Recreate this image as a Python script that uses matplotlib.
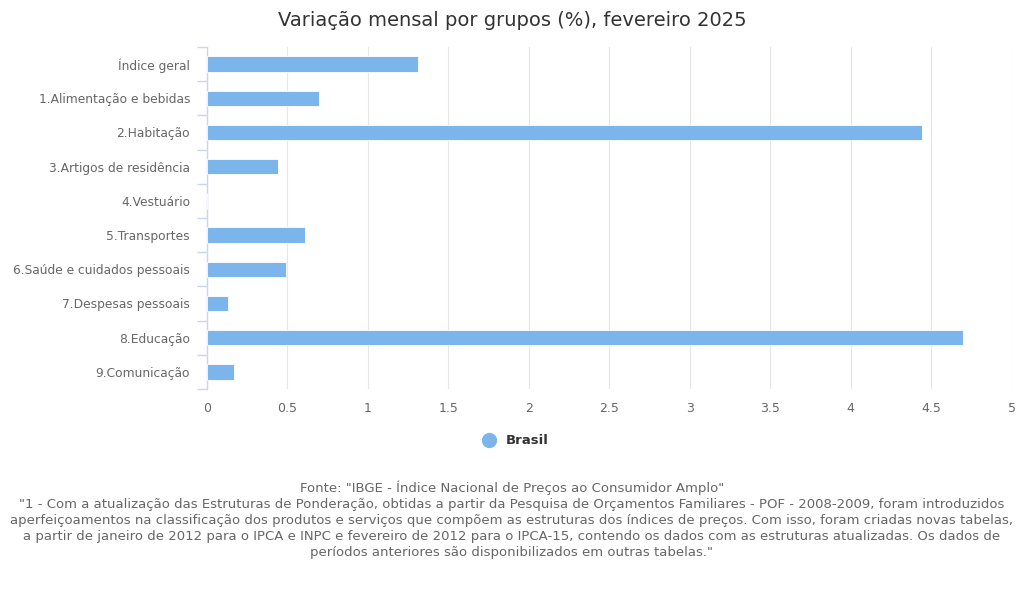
import matplotlib.pyplot as plt
from matplotlib.lines import Line2D

plt.rcParams['font.family'] = ['DejaVu Sans']

categorias = ["Índice geral", "1.Alimentação e bebidas", "2.Habitação",
              "3.Artigos de residência", "4.Vestuário", "5.Transportes",
              "6.Saúde e cuidados pessoais", "7.Despesas pessoais",
              "8.Educação", "9.Comunicação"]
brasil = [1.31, 0.70, 4.44, 0.44, 0.00, 0.61, 0.49, 0.13, 4.70, 0.17]
x_ticks = [0, 0.5, 1, 1.5, 2, 2.5, 3, 3.5, 4, 4.5, 5]
x_labels = ["0", "0.5", "1", "1.5", "2", "2.5", "3", "3.5", "4", "4.5", "5"]

titulo = "Variação mensal por grupos (%), fevereiro 2025"
fonte = ('Fonte: "IBGE - Índice Nacional de Preços ao Consumidor Amplo"\n'
         '"1 - Com a atualização das Estruturas de Ponderação, obtidas a partir da Pesquisa de Orçamentos Familiares - POF - 2008-2009, foram introduzidos\n'
         'aperfeiçoamentos na classificação dos produtos e serviços que compõem as estruturas dos índices de preços. Com isso, foram criadas novas tabelas,\n'
         'a partir de janeiro de 2012 para o IPCA e INPC e fevereiro de 2012 para o IPCA-15, contendo os dados com as estruturas atualizadas. Os dados de\n'
         'períodos anteriores são disponibilizados em outras tabelas."')

W, H = 1024, 602
fig = plt.figure(figsize=(W / 100, H / 100), dpi=100)
ax = fig.add_axes([206.7 / W, 1 - 389 / H, 805 / W, 342 / H])

pos = list(range(len(categorias)))
ax.barh(pos, brasil, height=0.45, color="#7cb5ec", edgecolor="white", linewidth=0.6, zorder=3)

ax.set_ylim(len(categorias) - 0.5, -0.5)
ax.set_xlim(0, 5)
ax.set_yticks(pos)
ax.set_yticklabels(categorias, fontsize=8.8, color="#666666")
ax.set_yticks([p - 0.5 for p in pos] + [len(pos) - 0.5], minor=True)
ax.tick_params(axis="y", which="major", length=0, pad=12)
ax.tick_params(axis="y", which="minor", length=7.5, color="#ccd6eb", width=1)

ax.set_xticks(x_ticks)
ax.set_xticklabels(x_labels, fontsize=9, color="#666666")
ax.tick_params(axis="x", length=0, pad=9)
ax.grid(axis="x", color="#e6e6e6", linewidth=0.8, zorder=0)

for s in ["top", "right", "bottom"]:
    ax.spines[s].set_visible(False)
ax.spines["left"].set_color("#ccd6eb")
ax.spines["left"].set_linewidth(1)

fig.text(0.5, 1 - 20 / H, titulo, ha="center", va="center", fontsize=14, color="#333333")

handle = Line2D([], [], marker="o", linestyle="none", markersize=10,
                markerfacecolor="#7cb5ec", markeredgecolor="#7cb5ec")
leg = fig.legend([handle], ["Brasil"], loc="center", bbox_to_anchor=(0.5, 1 - 441 / H),
                 frameon=False, handletextpad=0.3, prop={"weight": "bold", "size": 9.5})
for t in leg.get_texts():
    t.set_color("#333333")

fig.text(0.5, 1 - 520 / H, fonte, ha="center", va="center", fontsize=9.5,
         color="#666666", linespacing=1.3)

fig.savefig("out.png", dpi=100)
